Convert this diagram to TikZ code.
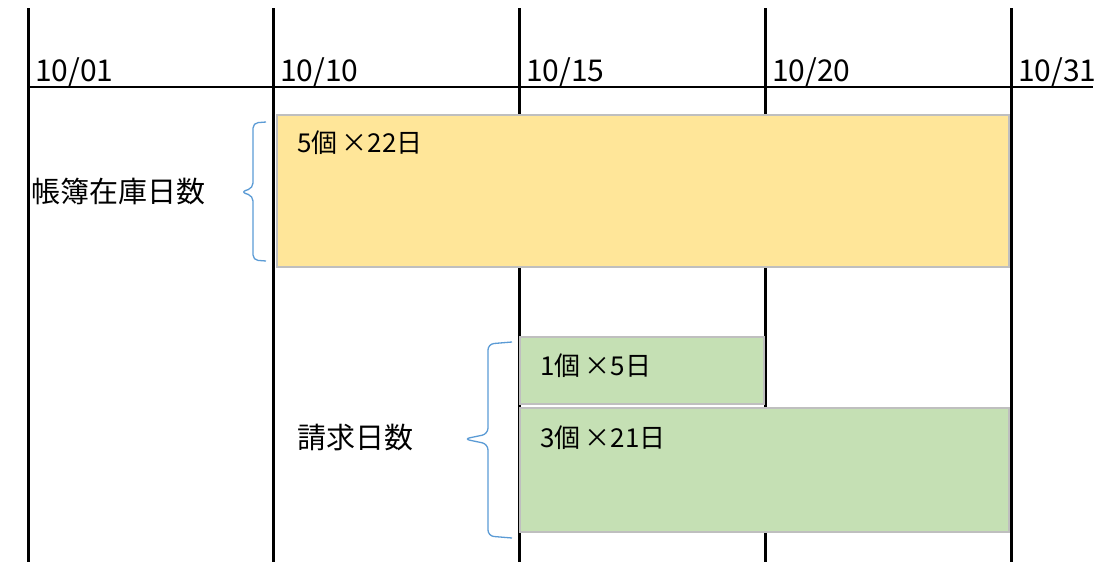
\documentclass[tikz,border=0pt]{standalone}
\usepackage{fontspec}
\setmainfont{Noto Sans CJK JP}
\usetikzlibrary{positioning}
\definecolor{stockyellow}{HTML}{FFE699}
\definecolor{billgreen}{HTML}{C5E0B4}
\definecolor{edgegray}{HTML}{BFBFBF}
\definecolor{braceblue}{HTML}{5B9BD5}

\begin{document}
\begin{tikzpicture}[x=1pt,y=-1pt,
      dayline/.style={line width=3pt,draw=black},
      axisline/.style={line width=2.5pt,draw=black},
      date/.style={anchor=base west,inner sep=0pt,font=\fontsize{30}{30}\selectfont},
      bar/.style={draw=edgegray,line width=2pt,anchor=north west,inner sep=0pt},
      amount/.style={anchor=west,inner sep=0pt,font=\fontsize{26}{26}\selectfont},
      caption/.style={anchor=west,inner sep=0pt,font=\fontsize{29}{29}\selectfont},
      bracket/.style={draw=braceblue,line width=1.3pt,rounded corners=#1}
      ]
      \useasboundingbox (0,0) rectangle (1110,562);
      % day columns
      \foreach \x/\d in {28/01,273/10,519/15,765/20,1011/31} {
        \coordinate (top\d) at (\x,8);
        \coordinate (bot\d) at (\x,562);
        \draw[dayline] (top\d) -- (bot\d);
        \node[date] (day\d) at (\x+7,81) {10/\d};
      }
      \coordinate (axisL) at (28,87);
      \coordinate (axisR) at (1093,87);
      \draw[axisline] (axisL) -- (axisR);
      % bars
      \node[bar,fill=stockyellow,minimum width=732pt,minimum height=152pt] (stock) at (276,114) {};
      \node[bar,fill=billgreen,minimum width=244pt,minimum height=67pt] (billa) at (519,336) {};
      \node[bar,fill=billgreen,minimum width=489pt,minimum height=124pt] (billb) at (519,407) {};
      \node[amount] (stocktxt) at ([shift={(21,29)}]stock.north west) {5個\,×22日};
      \node[amount] (billatxt) at ([shift={(21,30)}]billa.north west) {1個\,×5日};
      \node[amount] (billbtxt) at ([shift={(21,31)}]billb.north west) {3個\,×21日};
      % braces
      \coordinate (stop) at (266,122);
      \coordinate (sbot) at (266,261);
      \draw[bracket=5pt] (stop) -- (253,123) -- (253,188) -- (241,192)
        -- (253,196) -- (253,260) -- (sbot);
      \coordinate (btop) at (512,342);
      \coordinate (bbot) at (512,538);
      \draw[bracket=6pt] (btop) -- (488,344) -- (488,434) -- (464,439)
        -- (488,444) -- (488,536) -- (bbot);
      \node[caption] (stocklabel) at (31,192) {帳簿在庫日数};
      \node[caption] (billlabel) at (297,438) {請求日数};
    \end{tikzpicture}
\end{document}
